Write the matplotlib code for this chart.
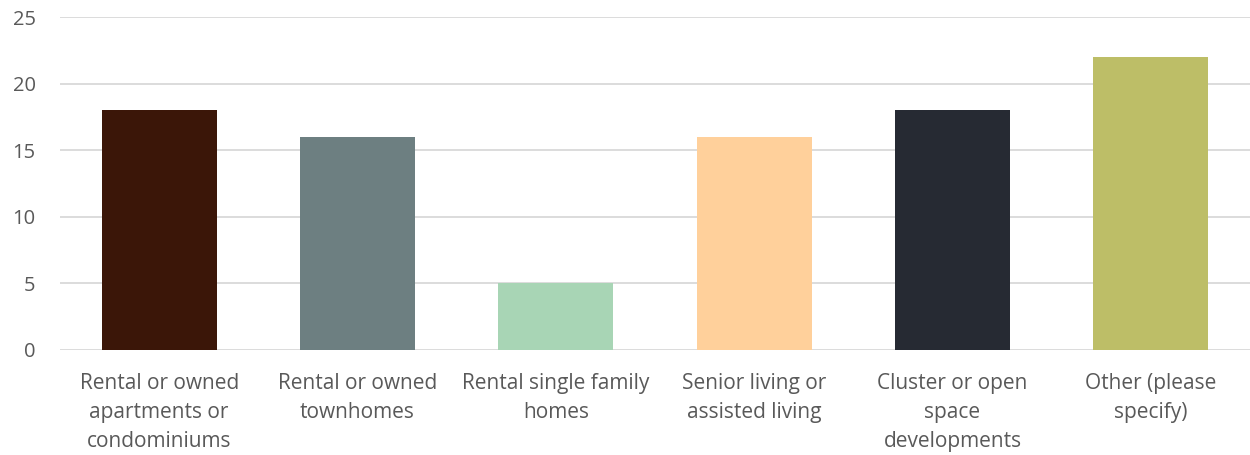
import matplotlib
matplotlib.use("Agg")
import matplotlib.pyplot as plt

categories = [
    "Rental or owned\napartments or\ncondominiums",
    "Rental or owned\ntownhomes",
    "Rental single family\nhomes",
    "Senior living or\nassisted living",
    "Cluster or open\nspace\ndevelopments",
    "Other (please\nspecify)",
]
values = [18, 16, 5, 16, 18, 22]
colors = ["#3B1608", "#6D7F81", "#A8D5B5", "#FFD09B", "#262A33", "#BDBE67"]
yticks = [0, 5, 10, 15, 20, 25]

plt.rcParams["font.family"] = ["Open Sans", "DejaVu Sans"]
text_color = "#595959"
grid_color = "#D9D9D9"

fig = plt.figure(figsize=(12.5, 4.55), dpi=100)
ax = fig.add_axes([0.048, 0.2308, 0.952, 0.7318])

x = list(range(len(categories)))
ax.bar(x, values, width=0.58, color=colors, zorder=3)

ax.set_xlim(-0.5, len(categories) - 0.5)
ax.set_ylim(0, 25)
ax.set_yticks(yticks)
ax.set_yticklabels([str(v) for v in yticks])
ax.set_xticks(x)
ax.set_xticklabels(categories, linespacing=1.5)

for v in yticks:
    ax.axhline(v, color=grid_color, linewidth=1.3, zorder=1)

for s in ax.spines.values():
    s.set_visible(False)

ax.tick_params(axis="y", length=0, pad=17.5, labelsize=14.5, labelcolor=text_color)
ax.tick_params(axis="x", length=0, pad=16.5, labelsize=15, labelcolor=text_color)

fig.savefig("out.png", dpi=100)
